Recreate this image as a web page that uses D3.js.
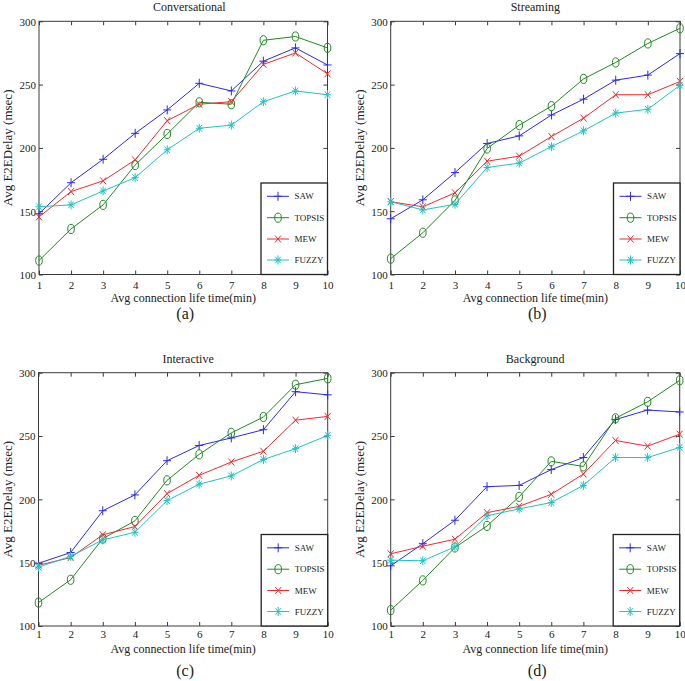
<!DOCTYPE html>
<html>
<head>
<meta charset="utf-8">
<script src="https://cdn.jsdelivr.net/npm/d3@7/dist/d3.min.js"></script>
<style>
  html, body { margin: 0; padding: 0; background: #fff; }
  svg { display: block; }
  text { font-family: "Liberation Serif", "DejaVu Serif", serif; fill: #222; }
</style>
</head>
<body>
<svg id="chart" width="685" height="681"></svg>
<script>
// ---- Data ----
const xValues = [1, 2, 3, 4, 5, 6, 7, 8, 9, 10];
const yTicks = [100, 150, 200, 250, 300];
const seriesNames = ["SAW", "TOPSIS", "MEW", "FUZZY"];
const panelTitles = ["Conversational", "Streaming", "Interactive", "Background"];
const panelLetters = ["(a)", "(b)", "(c)", "(d)"];

const convSAW    = [148, 172.5, 191, 211.5, 230, 251, 245, 268.5, 279, 265.5];
const convTOPSIS = [111, 136, 155, 186.5, 211, 236, 234.5, 285, 288, 279];
const convMEW    = [145.5, 165.5, 174, 190.5, 221.5, 234.5, 236.5, 266, 275, 258.5];
const convFUZZY  = [153.5, 155, 166, 176.5, 198.5, 215.5, 218, 236.5, 245, 242];

const strSAW    = [144, 159, 180.5, 203.5, 209.5, 226, 238.5, 253.5, 257.5, 274.5];
const strTOPSIS = [112.5, 133, 158.5, 199.5, 218, 233, 254.5, 267.5, 282.5, 294.5];
const strMEW    = [157.5, 153.5, 164.5, 189.5, 193.5, 209, 223.5, 242, 242, 252.5];
const strFUZZY  = [157.5, 151, 155.5, 184.5, 188, 201, 213.5, 227.5, 230.5, 249.5];

const intSAW    = [149.5, 158, 191, 203.5, 230.5, 242.5, 248.5, 255, 285, 282.5];
const intTOPSIS = [118.5, 136.5, 169, 183, 215, 235.5, 252.5, 265, 290.5, 295.5];
const intMEW    = [148, 154, 172, 178.5, 204.5, 219, 229.5, 238, 262.5, 265.5];
const intFUZZY  = [146.5, 155, 168, 174, 199, 212, 218.5, 231.5, 240, 250.5];

const bgSAW    = [147.5, 165, 183.5, 210, 211, 223.5, 233, 263, 270.5, 269];
const bgTOPSIS = [112.5, 136, 162, 179, 202, 230, 226, 264, 277, 294];
const bgMEW    = [157, 163, 168.5, 189.5, 194.5, 204, 220, 246.5, 242, 251.5];
const bgFUZZY  = [152, 151.5, 162.5, 187, 192.5, 197.5, 211, 233, 233, 241];

const panelData = [
  [convSAW, convTOPSIS, convMEW, convFUZZY],
  [strSAW, strTOPSIS, strMEW, strFUZZY],
  [intSAW, intTOPSIS, intMEW, intFUZZY],
  [bgSAW, bgTOPSIS, bgMEW, bgFUZZY]
];

// ---- Layout / style ----
const layouts = [
  {left: 39,    right: 327.5, top: 21.3,  bottom: 274.5, titleDx: 6, tickDy: 14,   xlabDy: 27.5, letterDy: 44.5},
  {left: 390.7, right: 680,   top: 21.3,  bottom: 274.5, titleDx: 0, tickDy: 14,   xlabDy: 27.5, letterDy: 44.5},
  {left: 38.5,  right: 327.7, top: 372.7, bottom: 626,   titleDx: 5, tickDy: 11.5, xlabDy: 27,   letterDy: 50},
  {left: 390.7, right: 679.7, top: 372.7, bottom: 626,   titleDx: 0, tickDy: 11.5, xlabDy: 27,   letterDy: 50}
];
const colors = ["#2a2ae8", "#1f8a1f", "#ee2b2b", "#1fc4c4"];
const axisColor = "#3a3a3a";

const svg = d3.select("#chart");

function drawMarker(g, type, x, y, color) {
  if (type === 0) { // plus
    g.append("path").attr("d", `M${x-4},${y}H${x+4}M${x},${y-4.5}V${y+4.5}`)
      .attr("stroke", color).attr("stroke-width", 1).attr("fill", "none");
  } else if (type === 1) { // circle (stretched)
    g.append("ellipse").attr("cx", x).attr("cy", y).attr("rx", 3.3).attr("ry", 4.6)
      .attr("stroke", color).attr("stroke-width", 1).attr("fill", "none");
  } else if (type === 2) { // x
    g.append("path").attr("d", `M${x-3},${y-3.5}L${x+3},${y+3.5}M${x-3},${y+3.5}L${x+3},${y-3.5}`)
      .attr("stroke", color).attr("stroke-width", 1).attr("fill", "none");
  } else { // star
    g.append("path").attr("d",
      `M${x-3.5},${y}H${x+3.5}M${x},${y-4.5}V${y+4.5}M${x-2.7},${y-3.3}L${x+2.7},${y+3.3}M${x-2.7},${y+3.3}L${x+2.7},${y-3.3}`)
      .attr("stroke", color).attr("stroke-width", 1).attr("fill", "none");
  }
}

layouts.forEach((L, pi) => {
  const g = svg.append("g");
  const xs = d3.scaleLinear().domain([1, 10]).range([L.left, L.right]);
  const ys = d3.scaleLinear().domain([100, 300]).range([L.bottom, L.top]);
  const w = L.right - L.left, h = L.bottom - L.top;

  // axes box
  g.append("rect").attr("x", L.left).attr("y", L.top).attr("width", w).attr("height", h)
    .attr("fill", "#fff").attr("stroke", axisColor).attr("stroke-width", 1);

  // inward ticks on all four sides
  const tl = 4;
  const xAxB = d3.axisBottom(xs).tickValues(xValues).tickSize(-tl).tickFormat(d => d);
  const gxb = g.append("g").attr("transform", `translate(0,${L.bottom})`).call(xAxB);
  gxb.select(".domain").remove();
  gxb.selectAll("line").attr("stroke", axisColor);
  gxb.selectAll("text").attr("y", L.tickDy).attr("dy", 0).attr("font-size", 11)
    .style("font-family", '"Liberation Serif", serif').attr("fill", "#222");

  const xAxT = d3.axisTop(xs).tickValues(xValues).tickSize(-tl).tickFormat("");
  const gxt = g.append("g").attr("transform", `translate(0,${L.top})`).call(xAxT);
  gxt.select(".domain").remove();
  gxt.selectAll("line").attr("stroke", axisColor);

  const yAxL = d3.axisLeft(ys).tickValues(yTicks).tickSize(-tl).tickFormat(d => d);
  const gyl = g.append("g").attr("transform", `translate(${L.left},0)`).call(yAxL);
  gyl.select(".domain").remove();
  gyl.selectAll("line").attr("stroke", axisColor);
  gyl.selectAll("text").attr("x", -3).attr("dy", "0.35em").attr("font-size", 11)
    .style("font-family", '"Liberation Serif", serif').attr("fill", "#222");

  const yAxR = d3.axisRight(ys).tickValues(yTicks).tickSize(-tl).tickFormat("");
  const gyr = g.append("g").attr("transform", `translate(${L.right},0)`).call(yAxR);
  gyr.select(".domain").remove();
  gyr.selectAll("line").attr("stroke", axisColor);

  // series
  const line = d3.line().x((d, i) => xs(xValues[i])).y(d => ys(d));
  panelData[pi].forEach((vals, si) => {
    g.append("path").attr("d", line(vals)).attr("fill", "none")
      .attr("stroke", colors[si]).attr("stroke-width", 1);
    vals.forEach((v, i) => drawMarker(g, si, xs(xValues[i]), ys(v), colors[si]));
  });

  // legend
  const lx = L.right - 66.5, ly = L.bottom - 91.5;
  const lg = g.append("g");
  lg.append("rect").attr("x", lx).attr("y", ly).attr("width", L.right - lx).attr("height", L.bottom - ly)
    .attr("fill", "#fff").attr("stroke", "#222").attr("stroke-width", 1.3);
  const entryDy = [13.3, 34.7, 56, 77];
  seriesNames.forEach((name, si) => {
    const yy = ly + entryDy[si];
    lg.append("line").attr("x1", lx + 6).attr("x2", lx + 28).attr("y1", yy).attr("y2", yy)
      .attr("stroke", colors[si]).attr("stroke-width", 1);
    drawMarker(lg, si, lx + 17, yy, colors[si]);
    lg.append("text").attr("x", lx + 33.5).attr("y", yy).attr("dy", "0.35em")
      .attr("font-size", 9).text(name);
  });

  // title
  g.append("text").attr("x", (L.left + L.right) / 2 + L.titleDx).attr("y", L.top - 10)
    .attr("text-anchor", "middle").attr("font-size", 12).text(panelTitles[pi]);

  // axis labels
  g.append("text").attr("x", (L.left + L.right) / 2).attr("y", L.bottom + L.xlabDy)
    .attr("text-anchor", "middle").attr("font-size", 12).text("Avg connection life time(min)");
  g.append("text")
    .attr("transform", `translate(${L.left - 27},${(L.top + L.bottom) / 2}) rotate(-90)`)
    .attr("text-anchor", "middle").attr("font-size", 13).text("Avg E2EDelay (msec)");

  // panel letter
  g.append("text").attr("x", (L.left + L.right) / 2 + 2).attr("y", L.bottom + L.letterDy)
    .attr("text-anchor", "middle").attr("font-size", 16).text(panelLetters[pi]);
});
</script>
</body>
</html>
